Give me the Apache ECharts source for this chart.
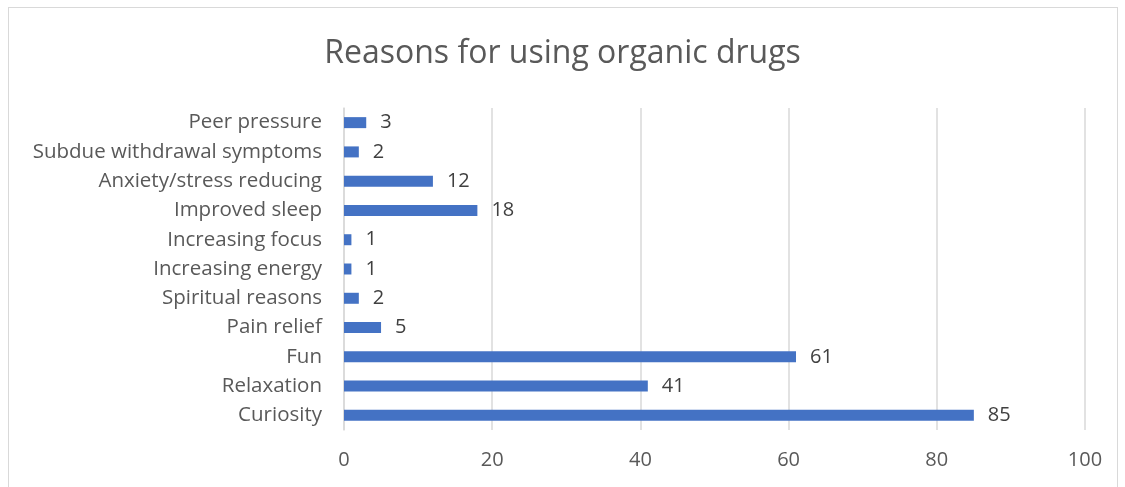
<!DOCTYPE html>
<html>
<head>
<meta charset="utf-8">
<script src="https://cdn.jsdelivr.net/npm/echarts@6/dist/echarts.min.js"></script>
<style>
  html, body { margin: 0; padding: 0; background: #fff; }
  #frame { position: absolute; left: 8px; top: 7px; width: 1110px; height: 490px; border: 1px solid #d9d9d9; box-sizing: border-box; }
  #chart { width: 1125px; height: 487px; }
</style>
</head>
<body>
<div id="frame"></div>
<div id="chart"></div>
<script>
// bottom to top, as drawn on the y axis
const categories = ['Curiosity', 'Relaxation', 'Fun', 'Pain relief', 'Spiritual reasons', 'Increasing energy',
  'Increasing focus', 'Improved sleep', 'Anxiety/stress reducing', 'Subdue withdrawal symptoms', 'Peer pressure']
const values = [85, 41, 61, 5, 2, 1, 1, 18, 12, 2, 3]
const xTicks = [0, 20, 40, 60, 80, 100]

const font = '"Open Sans", "Noto Sans", sans-serif'

const option = {
  animation: false,
  title: {
    text: 'Reasons for using organic drugs',
    left: 'center',
    top: 33,
    textStyle: { fontFamily: font, fontSize: 32, fontWeight: 'normal', color: '#595959' }
  },
  grid: { left: 344, right: 40, top: 108, bottom: 57, containLabel: false },
  xAxis: {
    type: 'value',
    min: xTicks[0],
    max: xTicks[xTicks.length - 1],
    interval: 20,
    axisLine: { show: false },
    axisTick: { show: false },
    axisLabel: { fontFamily: font, fontSize: 20, color: '#595959', margin: 20 },
    splitLine: { lineStyle: { color: '#d9d9d9', width: 1.5 } }
  },
  yAxis: {
    type: 'category',
    data: categories,
    axisLine: { show: true, lineStyle: { color: '#d9d9d9', width: 1.5 } },
    axisTick: { show: false },
    axisLabel: { fontFamily: font, fontSize: 20.5, color: '#595959', margin: 22 }
  },
  series: [{
    type: 'bar',
    data: values,
    barWidth: 11,
    itemStyle: { color: '#4472c4' },
    label: {
      show: true,
      position: 'right',
      distance: 14,
      fontFamily: font,
      fontSize: 20,
      color: '#404040'
    }
  }]
}

const myChart = echarts.init(document.getElementById('chart'))
myChart.setOption(option)
</script>
</body>
</html>
